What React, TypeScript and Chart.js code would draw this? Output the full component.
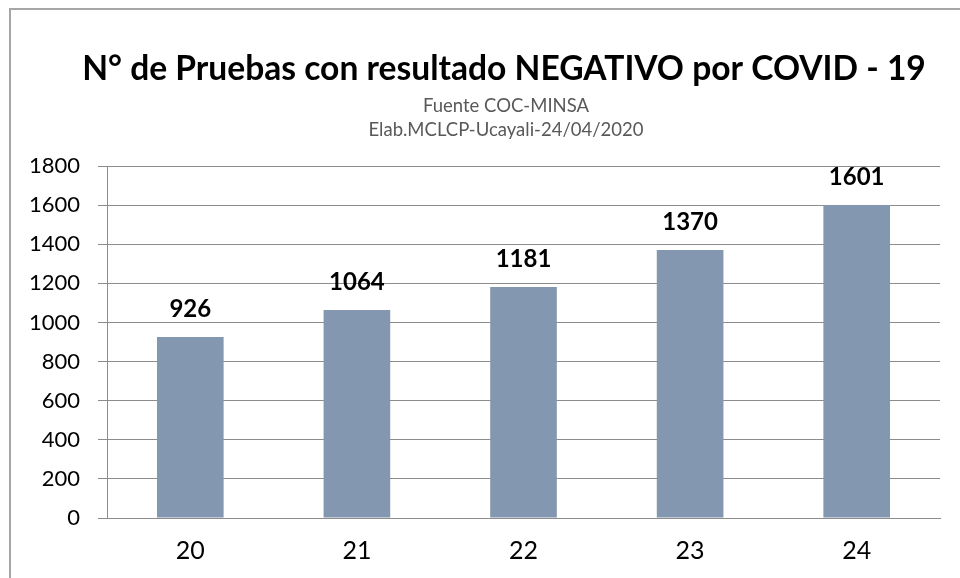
import React, { useEffect, useRef } from "react";
import { Chart, registerables } from "chart.js";

Chart.register(...registerables);

const categories = ["20", "21", "22", "23", "24"];
const negativeTests = [926, 1064, 1181, 1370, 1601];
const yTicks = { min: 0, max: 1800, step: 200 };
const titleText = "N° de Pruebas con resultado NEGATIVO por COVID - 19";
const subtitleLines = ["Fuente COC-MINSA", "Elab.MCLCP-Ucayali-24/04/2020"];

const FONT = "Lato, 'Open Sans', sans-serif";

const valueLabels = {
  id: "valueLabels",
  afterDatasetsDraw(chart: any) {
    const ctx = chart.ctx;
    const meta = chart.getDatasetMeta(0);
    ctx.save();
    ctx.font = `bold 24px ${FONT}`;
    ctx.fillStyle = "#000000";
    ctx.textAlign = "center";
    ctx.textBaseline = "middle";
    meta.data.forEach((bar: any, i: number) => {
      ctx.fillText(String(chart.data.datasets[0].data[i]), bar.x, bar.y - 28);
    });
    ctx.restore();
  },
};

const headerText = {
  id: "headerText",
  afterDraw(chart: any) {
    const ctx = chart.ctx;
    const cx = 504;
    ctx.save();
    ctx.textAlign = "center";
    ctx.textBaseline = "middle";
    ctx.fillStyle = "#000000";
    ctx.font = `bold 33.6px ${FONT}`;
    ctx.fillText(titleText, cx, 69);
    ctx.fillStyle = "#595959";
    ctx.font = `18.5px ${FONT}`;
    ctx.fillText(subtitleLines[0], cx + 2, 106);
    ctx.fillText(subtitleLines[1], cx + 2, 130);
    ctx.restore();
  },
};

export default function App() {
  const ref = useRef<HTMLCanvasElement | null>(null);

  useEffect(() => {
    if (!ref.current) return;
    const chart = new Chart(ref.current, {
      type: "bar",
      data: {
        labels: categories,
        datasets: [
          {
            data: negativeTests,
            backgroundColor: "#8497b0",
            borderWidth: 0,
            categoryPercentage: 1,
            barPercentage: 0.4,
          },
        ],
      },
      options: {
        animation: false,
        responsive: false,
        maintainAspectRatio: false,
        layout: { padding: { left: 0, right: 60, top: 166, bottom: 0 } },
        plugins: {
          legend: { display: false },
          tooltip: { enabled: false },
          title: { display: false },
          subtitle: { display: false },
        },
        scales: {
          x: {
            grid: { display: false, drawTicks: false },
            border: { display: true, color: "#8c8c8c", width: 1 },
            ticks: {
              color: "#000000",
              font: { family: FONT, size: 25 },
              padding: 18,
            },
            afterFit(scale: any) {
              scale.height = 60;
            },
          },
          y: {
            min: yTicks.min,
            max: yTicks.max,
            grid: {
              color: "#8c8c8c",
              lineWidth: 1,
              tickLength: 9,
              drawTicks: true,
            },
            border: { display: true, color: "#8c8c8c", width: 1 },
            ticks: {
              stepSize: yTicks.step,
              color: "#000000",
              font: { family: FONT, size: 22 },
              padding: 18,
              callback: (v: any) => String(v),
            },
            afterFit(scale: any) {
              scale.width = 107;
            },
          },
        },
      },
      plugins: [valueLabels, headerText],
    });
    return () => chart.destroy();
  }, []);

  return (
    <div
      style={{
        position: "fixed",
        left: 0,
        top: 0,
        width: 960,
        height: 578,
        overflow: "hidden",
        background: "#ffffff",
      }}
    >
      <div
        style={{
          position: "absolute",
          left: 9,
          top: 8,
          width: 1100,
          height: 700,
          borderLeft: "2px solid #a6a6a6",
          borderTop: "2px solid #a6a6a6",
        }}
      />
      <canvas
        ref={ref}
        width={1000}
        height={578}
        style={{ position: "absolute", left: 0, top: 0, width: 1000, height: 578 }}
      />
    </div>
  );
}
